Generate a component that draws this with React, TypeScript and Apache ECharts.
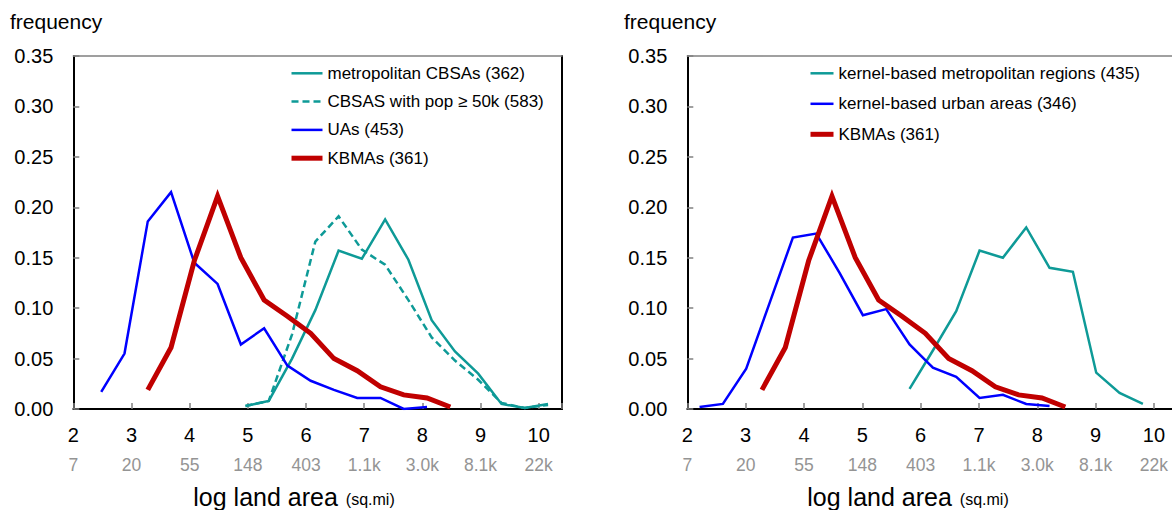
import React, { useEffect, useRef } from "react";
import * as echarts from "echarts";

const FONT = '"Liberation Sans", Arial, Helvetica, sans-serif';

// secondary tick labels: land area in sq.mi for ln values 2..10
const areaLabels = ["7", "20", "55", "148", "403", "1.1k", "3.0k", "8.1k", "22k"];
const yTickMin = 0;
const yTickMax = 0.35;
const xTickMin = 2;
const xTickMax = 10.4;

// ---- left panel ----
const metroX = [4.96, 5.36, 5.76, 6.16, 6.56, 6.96, 7.36, 7.76, 8.16, 8.56, 8.96, 9.36, 9.76, 10.16];
const metroY = [0.003, 0.008, 0.05, 0.098, 0.157, 0.149, 0.188, 0.148, 0.088, 0.057, 0.035, 0.005, 0.001, 0.005];

const cbsaX = [4.96, 5.36, 5.76, 6.16, 6.56, 6.96, 7.36, 7.76, 8.16, 8.56, 8.96, 9.36, 9.76, 10.16];
const cbsaY = [0.003, 0.008, 0.074, 0.166, 0.191, 0.158, 0.143, 0.108, 0.071, 0.048, 0.029, 0.006, 0.001, 0.004];

const uaX = [2.48, 2.88, 3.28, 3.68, 4.08, 4.48, 4.88, 5.28, 5.68, 6.08, 6.48, 6.88, 7.28, 7.68, 8.08];
const uaY = [0.017, 0.055, 0.186, 0.215, 0.145, 0.124, 0.064, 0.08, 0.043, 0.028, 0.019, 0.011, 0.011, 0.0, 0.002];

const kbmaX = [3.28, 3.68, 4.08, 4.48, 4.88, 5.28, 5.68, 6.08, 6.48, 6.88, 7.28, 7.68, 8.08, 8.48];
const kbmaY = [0.019, 0.061, 0.147, 0.211, 0.15, 0.108, 0.092, 0.075, 0.05, 0.038, 0.022, 0.014, 0.011, 0.002];

// ---- right panel ----
const kmrX = [5.81, 6.21, 6.61, 7.01, 7.41, 7.81, 8.21, 8.61, 9.01, 9.41, 9.81];
const kmrY = [0.02, 0.058, 0.097, 0.157, 0.15, 0.18, 0.14, 0.136, 0.036, 0.016, 0.005];

const kuaX = [2.21, 2.61, 3.01, 3.41, 3.81, 4.21, 4.61, 5.01, 5.41, 5.81, 6.21, 6.61, 7.01, 7.41, 7.81, 8.21];
const kuaY = [0.002, 0.005, 0.04, 0.105, 0.17, 0.174, 0.135, 0.093, 0.099, 0.064, 0.041, 0.032, 0.011, 0.014, 0.005, 0.003];

const TEAL = "#0E9A97";
const BLUE = "#0000FF";
const RED = "#C00000";

const zip = (xs: number[], ys: number[]) => xs.map((x, i) => [x, ys[i]]);

function measure(text: string, size: number) {
  const c = document.createElement("canvas").getContext("2d");
  if (!c) return text.length * size * 0.5;
  c.font = `${size}px ${FONT}`;
  return c.measureText(text).width;
}

export default function App() {
  const ref = useRef<HTMLDivElement>(null);

  useEffect(() => {
    if (!ref.current) return;
    const chart = echarts.init(ref.current, null, { renderer: "svg" });

    const grids = [
      { left: 73.3, top: 56, width: 488.7, height: 353 },
      { left: 687.3, top: 56, width: 490, height: 353 },
    ];

    const xLabelFormatter = (v: number) => {
      const r = Math.round(v);
      if (Math.abs(v - r) > 1e-6) return "";
      const idx = r - 2;
      return `{a|${r}}\n{b|${areaLabels[idx] ?? ""}}`;
    };

    const makeX = (gi: number) => [
      {
        gridIndex: gi,
        type: "value",
        min: xTickMin,
        max: xTickMax,
        interval: 1,
        position: "bottom",
        axisLine: { show: true, onZero: false, lineStyle: { color: "#000", width: 2 } },
        axisTick: { show: true, inside: true, length: 6, lineStyle: { color: "#808080", width: 1.5 } },
        axisLabel: {
          margin: 11,
          formatter: xLabelFormatter,
          rich: {
            a: { fontSize: 20, color: "#000", lineHeight: 30, fontFamily: FONT },
            b: { fontSize: 17.5, color: "#949494", lineHeight: 30, fontFamily: FONT },
          },
        },
        splitLine: { show: false },
      },
      {
        gridIndex: gi,
        type: "value",
        min: xTickMin,
        max: xTickMax,
        interval: 1,
        position: "top",
        axisLine: { show: true, onZero: false, lineStyle: { color: "#808080", width: 1.5 } },
        axisTick: { show: false },
        axisLabel: { show: false },
        splitLine: { show: false },
      },
    ];

    const makeY = (gi: number) => [
      {
        gridIndex: gi,
        type: "value",
        min: yTickMin,
        max: yTickMax,
        interval: 0.05,
        position: "left",
        axisLine: { show: true, onZero: false, lineStyle: { color: "#000", width: 2 } },
        axisTick: { show: true, inside: true, length: 6, lineStyle: { color: "#808080", width: 1.5 } },
        axisLabel: {
          margin: 20,
          fontSize: 20,
          color: "#000",
          fontFamily: FONT,
          formatter: (v: number) => v.toFixed(2),
        },
        splitLine: { show: false },
      },
      {
        gridIndex: gi,
        type: "value",
        min: yTickMin,
        max: yTickMax,
        interval: 0.05,
        position: "right",
        axisLine: { show: true, onZero: false, lineStyle: { color: "#000", width: 2 } },
        axisTick: { show: false },
        axisLabel: { show: false },
        splitLine: { show: false },
      },
    ];

    const line = (
      name: string,
      xs: number[],
      ys: number[],
      color: string,
      width: number,
      axis: number,
      type: any = "solid",
      z = 2
    ) => ({
      name,
      type: "line",
      xAxisIndex: axis,
      yAxisIndex: axis,
      data: zip(xs, ys),
      symbol: "none",
      showSymbol: false,
      z,
      lineStyle: { color, width, type, cap: "butt", join: "miter" },
      itemStyle: { color },
      emphasis: { disabled: true },
    });

    const titleMain = "log land area";
    const titleSub = "(sq.mi)";
    const mainSize = 25;
    const subSize = 16;
    const mainW = measure(titleMain, mainSize);
    const gap = 8;

    const textEl = (x: number, y: number, text: string, size: number, color = "#000") => ({
      type: "text",
      x,
      y,
      style: {
        text,
        fontSize: size,
        fontFamily: FONT,
        fill: color,
        verticalAlign: "middle",
        align: "left",
      },
    });

    const legendCommon = {
      orient: "vertical",
      top: 63.3,
      padding: 0,
      itemHeight: 20,
      selectedMode: false,
      itemStyle: { opacity: 0 },
      lineStyle: { width: "inherit", type: "inherit" },
      textStyle: { fontSize: 17, color: "#000", fontFamily: FONT, lineHeight: 20 },
    };

    const option = {
      animation: false,
      textStyle: { fontFamily: FONT },
      grid: grids,
      xAxis: [...makeX(0), ...makeX(1)],
      yAxis: [...makeY(0), ...makeY(1)],
      legend: [
        {
          ...legendCommon,
          data: ["metropolitan CBSAs (362)", "CBSAS with pop \u2265 50k (583)", "UAs (453)", "KBMAs (361)"],
          left: 289,
          itemWidth: 31,
          itemGap: 8.3,
        },
        {
          ...legendCommon,
          data: ["kernel-based metropolitan regions (435)", "kernel-based urban areas (346)", "KBMAs (361)"],
          left: 808,
          itemWidth: 23,
          itemGap: 10.5,
        },
      ],
      series: [
        line("metropolitan CBSAs (362)", metroX, metroY, TEAL, 2.5, 0, "solid", 2),
        line("CBSAS with pop \u2265 50k (583)", cbsaX, cbsaY, TEAL, 2.5, 0, [7, 4], 2),
        line("UAs (453)", uaX, uaY, BLUE, 2.5, 0, "solid", 3),
        line("KBMAs (361)", kbmaX, kbmaY, RED, 5, 0, "solid", 4),
        line("kernel-based metropolitan regions (435)", kmrX, kmrY, TEAL, 2.5, 2, "solid", 2),
        line("kernel-based urban areas (346)", kuaX, kuaY, BLUE, 2.5, 2, "solid", 3),
        line("KBMAs (361)", kbmaX, kbmaY, RED, 5, 2, "solid", 4),
      ],
      graphic: [
        textEl(10, 21, "frequency", 21),
        textEl(624, 21, "frequency", 21),
        textEl(193.3, 496.5, titleMain, mainSize),
        textEl(193.3 + mainW + gap, 499, titleSub, subSize),
        textEl(807.3, 496.5, titleMain, mainSize),
        textEl(807.3 + mainW + gap, 499, titleSub, subSize),
      ],
    };

    chart.setOption(option as any);
    return () => chart.dispose();
  }, []);

  return (
    <div
      style={{
        position: "fixed",
        left: 0,
        top: 0,
        width: 1172,
        height: 510,
        overflow: "hidden",
        background: "#fff",
      }}
    >
      <div ref={ref} style={{ width: 1200, height: 510 }} />
    </div>
  );
}
